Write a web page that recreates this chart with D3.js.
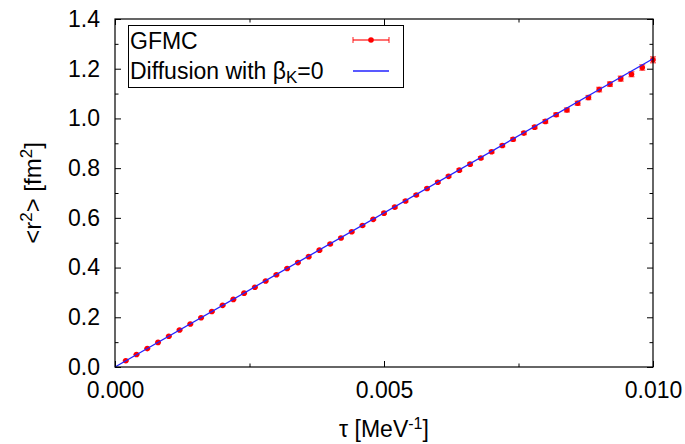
<!DOCTYPE html>
<html>
<head>
<meta charset="utf-8">
<script src="https://cdn.jsdelivr.net/npm/d3@7"></script>
<style>
  body { margin: 0; background: white; }
  #chart { width: 685px; height: 444px; }
  text { font-family: "Liberation Sans", Arial, sans-serif; }
</style>
</head>
<body>
<div id="chart"></div>
<script>
// GFMC samples: imaginary time tau [MeV^-1], <r^2> [fm^2], error
const tauValues = [
  0.0002, 0.0004, 0.0006, 0.0008, 0.0010, 0.0012, 0.0014, 0.0016, 0.0018, 0.0020,
  0.0022, 0.0024, 0.0026, 0.0028, 0.0030, 0.0032, 0.0034, 0.0036, 0.0038, 0.0040,
  0.0042, 0.0044, 0.0046, 0.0048, 0.0050, 0.0052, 0.0054, 0.0056, 0.0058, 0.0060,
  0.0062, 0.0064, 0.0066, 0.0068, 0.0070, 0.0072, 0.0074, 0.0076, 0.0078, 0.0080,
  0.0082, 0.0084, 0.0086, 0.0088, 0.0090, 0.0092, 0.0094, 0.0096, 0.0098, 0.0100
];
const r2Values = [
  0.025, 0.050, 0.074, 0.099, 0.124, 0.149, 0.173, 0.198, 0.223, 0.248,
  0.272, 0.297, 0.321, 0.346, 0.371, 0.396, 0.420, 0.444, 0.470, 0.495,
  0.519, 0.544, 0.569, 0.594, 0.619, 0.643, 0.668, 0.692, 0.718, 0.743,
  0.767, 0.792, 0.816, 0.841, 0.866, 0.891, 0.916, 0.941, 0.965, 0.988,
  1.015, 1.034, 1.061, 1.084, 1.116, 1.138, 1.160, 1.178, 1.205, 1.236
];
const r2Errors = [
  0.001, 0.001, 0.001, 0.001, 0.002, 0.002, 0.002, 0.002, 0.002, 0.002,
  0.002, 0.002, 0.002, 0.002, 0.003, 0.003, 0.003, 0.003, 0.003, 0.003,
  0.003, 0.003, 0.003, 0.003, 0.004, 0.004, 0.004, 0.004, 0.004, 0.004,
  0.004, 0.005, 0.005, 0.005, 0.005, 0.005, 0.006, 0.006, 0.006, 0.007,
  0.007, 0.008, 0.008, 0.008, 0.009, 0.009, 0.010, 0.010, 0.011, 0.012
];

// Diffusion with beta_K = 0 (straight line)
const diffusionTau = [0.0, 0.01];
const diffusionR2 = [0.0, 1.24];

// ticks
const xMajorTicks = [0.0, 0.005, 0.01];
const xMinorTicks = [0.0025, 0.0075];
const yMajorTicks = [0.0, 0.2, 0.4, 0.6, 0.8, 1.0, 1.2, 1.4];
const yMinorTicks = [0.1, 0.3, 0.5, 0.7, 0.9, 1.1, 1.3];

const W = 685, H = 444;
const margin = { top: 19, right: 32, bottom: 77, left: 115 };
const width = W - margin.left - margin.right;
const height = H - margin.top - margin.bottom;

const svg = d3.select("#chart").append("svg")
    .attr("width", W)
    .attr("height", H);

const g = svg.append("g")
    .attr("transform", `translate(${margin.left},${margin.top})`);

const x = d3.scaleLinear().domain([0, 0.01]).range([0, width]);
const y = d3.scaleLinear().domain([0, 1.4]).range([height, 0]);

const fontSize = "23px";
const major = 6, minor = 3.5;

function styleAxis(sel) {
    sel.select(".domain").remove();
    sel.selectAll(".tick line").attr("stroke", "#000").attr("stroke-width", 1);
    sel.selectAll("text").attr("fill", "#000").style("font-size", fontSize);
}

// bottom / top ticks
g.append("g").attr("transform", `translate(0,${height})`)
    .call(d3.axisBottom(x).tickValues(xMajorTicks).tickSize(-major).tickPadding(15).tickFormat(d3.format(".3f")))
    .call(styleAxis);
g.append("g").attr("transform", `translate(0,${height})`)
    .call(d3.axisBottom(x).tickValues(xMinorTicks).tickSize(-minor).tickFormat(""))
    .call(styleAxis);
g.append("g")
    .call(d3.axisTop(x).tickValues(xMajorTicks).tickSize(-major).tickFormat(""))
    .call(styleAxis);
g.append("g")
    .call(d3.axisTop(x).tickValues(xMinorTicks).tickSize(-minor).tickFormat(""))
    .call(styleAxis);

// left / right ticks
g.append("g")
    .call(d3.axisLeft(y).tickValues(yMajorTicks).tickSize(-major).tickPadding(15).tickFormat(d3.format(".1f")))
    .call(styleAxis);
g.append("g")
    .call(d3.axisLeft(y).tickValues(yMinorTicks).tickSize(-minor).tickFormat(""))
    .call(styleAxis);
g.append("g").attr("transform", `translate(${width},0)`)
    .call(d3.axisRight(y).tickValues(yMajorTicks).tickSize(-major).tickFormat(""))
    .call(styleAxis);
g.append("g").attr("transform", `translate(${width},0)`)
    .call(d3.axisRight(y).tickValues(yMinorTicks).tickSize(-minor).tickFormat(""))
    .call(styleAxis);

// GFMC points with error bars
const gfmc = tauValues.map((t, i) => ({ tau: t, r2: r2Values[i], err: r2Errors[i] }));
const red = "#ff0000";
const cap = 3;

const pts = g.append("g").selectAll("g").data(gfmc).enter().append("g");
pts.append("line")
    .attr("x1", d => x(d.tau)).attr("x2", d => x(d.tau))
    .attr("y1", d => y(d.r2 - d.err)).attr("y2", d => y(d.r2 + d.err))
    .attr("stroke", red).attr("stroke-opacity", 0.8).attr("stroke-width", 1.4);
pts.append("line")
    .attr("x1", d => x(d.tau) - cap).attr("x2", d => x(d.tau) + cap)
    .attr("y1", d => y(d.r2 - d.err)).attr("y2", d => y(d.r2 - d.err))
    .attr("stroke", red).attr("stroke-opacity", 0.6).attr("stroke-width", 1.4);
pts.append("line")
    .attr("x1", d => x(d.tau) - cap).attr("x2", d => x(d.tau) + cap)
    .attr("y1", d => y(d.r2 + d.err)).attr("y2", d => y(d.r2 + d.err))
    .attr("stroke", red).attr("stroke-opacity", 0.6).attr("stroke-width", 1.4);
pts.append("circle")
    .attr("cx", d => x(d.tau)).attr("cy", d => y(d.r2))
    .attr("r", 2.8).attr("fill", red);

// diffusion line
const lineData = diffusionTau.map((t, i) => [t, diffusionR2[i]]);
g.append("path")
    .datum(lineData)
    .attr("fill", "none")
    .attr("stroke", "#2222ff")
    .attr("stroke-width", 1.3)
    .attr("d", d3.line().x(d => x(d[0])).y(d => y(d[1])));

// frame
g.append("rect")
    .attr("width", width).attr("height", height)
    .attr("fill", "none").attr("stroke", "#000").attr("stroke-width", 1.2);

// legend
const leg = svg.append("g");
leg.append("rect")
    .attr("x", 128.5).attr("y", 25.5).attr("width", 275).attr("height", 62)
    .attr("fill", "white").attr("stroke", "#000").attr("stroke-width", 1);
leg.append("text").attr("x", 130).attr("y", 49).style("font-size", fontSize).text("GFMC");
const lt = leg.append("text").attr("x", 130).attr("y", 79).style("font-size", fontSize);
lt.append("tspan").text("Diffusion with β");
lt.append("tspan").attr("baseline-shift", "-25%").style("font-size", "17px").text("K");
lt.append("tspan").text("=0");

// legend samples
const ly1 = 40, lx0 = 353, lx1 = 389;
leg.append("line").attr("x1", lx0).attr("x2", lx1).attr("y1", ly1).attr("y2", ly1)
    .attr("stroke", red).attr("stroke-opacity", 0.75).attr("stroke-width", 1.3);
[lx0, lx1].forEach(xx => leg.append("line")
    .attr("x1", xx).attr("x2", xx).attr("y1", ly1 - cap).attr("y2", ly1 + cap)
    .attr("stroke", red).attr("stroke-opacity", 0.75).attr("stroke-width", 1.2));
leg.append("circle").attr("cx", (lx0 + lx1) / 2).attr("cy", ly1).attr("r", 2.8).attr("fill", red);
leg.append("line").attr("x1", lx0).attr("x2", lx1).attr("y1", 71).attr("y2", 71)
    .attr("stroke", "#2222ff").attr("stroke-width", 1.3);

// axis titles
const xt = svg.append("text")
    .attr("x", 384).attr("y", 437)
    .attr("text-anchor", "middle").style("font-size", fontSize);
xt.append("tspan").text("τ [MeV");
xt.append("tspan").attr("baseline-shift", "super").style("font-size", "16px").text("-1");
xt.append("tspan").text("]");

const yt = svg.append("text")
    .attr("transform", "translate(41,193) rotate(-90)")
    .attr("text-anchor", "middle").style("font-size", "24px");
yt.append("tspan").text("<r");
yt.append("tspan").attr("baseline-shift", "super").style("font-size", "17px").text("2");
yt.append("tspan").text("> [fm");
yt.append("tspan").attr("baseline-shift", "super").style("font-size", "17px").text("2");
yt.append("tspan").text("]");
</script>
</body>
</html>
